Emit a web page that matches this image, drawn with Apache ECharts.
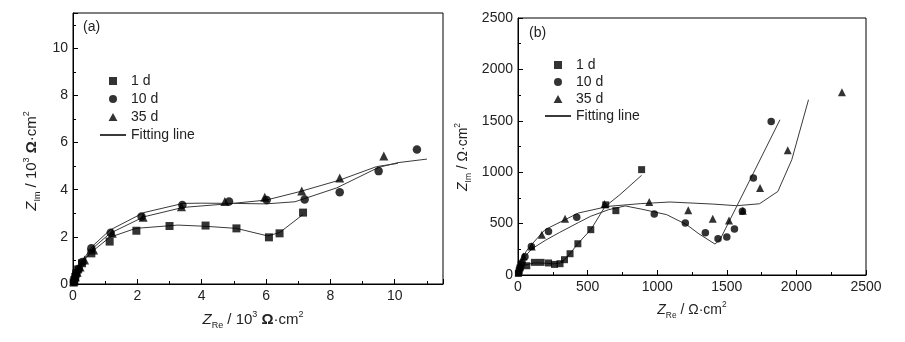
<!DOCTYPE html>
<html><head><meta charset="utf-8">
<script src="https://cdn.jsdelivr.net/npm/echarts@6/dist/echarts.min.js"></script>
<style>html,body{margin:0;padding:0;background:#fff}#c{width:905px;height:342px}</style>
</head><body><div id="c"></div>
<script>
// ---- Panel (a): Z in 10^3 Ω·cm² ----
const a1d = [[0.02,0.06],[0.04,0.16],[0.07,0.3],[0.1,0.45],[0.16,0.62],[0.28,0.88],[0.57,1.3],[1.14,1.8],[1.97,2.26],[3.0,2.46],[4.12,2.48],[5.08,2.36],[6.09,1.98],[6.42,2.15],[7.15,3.03]];
const a10d = [[0.03,0.1],[0.06,0.25],[0.1,0.45],[0.18,0.65],[0.29,0.93],[0.57,1.52],[1.17,2.17],[2.13,2.86],[3.4,3.35],[4.85,3.5],[6.02,3.56],[7.2,3.59],[8.29,3.89],[9.5,4.79],[10.69,5.71]];
const a35d = [[0.03,0.12],[0.07,0.3],[0.13,0.5],[0.22,0.72],[0.36,1.02],[0.64,1.44],[1.22,2.15],[2.18,2.83],[3.37,3.28],[4.72,3.5],[5.96,3.68],[7.11,3.95],[8.29,4.5],[9.66,5.43]];
const aFit1d = [[0,0],[0.05,0.2],[0.12,0.5],[0.28,0.9],[0.57,1.35],[1.14,1.98],[1.95,2.36],[3.26,2.5],[4.1,2.45],[5.08,2.36],[6.05,2.04],[6.42,2.18],[7.15,2.95]];
const aFit10d = [[0,0],[0.05,0.22],[0.1,0.48],[0.3,1.0],[0.6,1.6],[1.15,2.29],[2.2,3.03],[3.42,3.42],[4,3.43],[5,3.42],[6,3.4],[6.9,3.49],[8.2,4.08],[9.5,4.95],[10.1,5.15],[11,5.3]];
const aFit35d = [[0,0],[0.05,0.2],[0.1,0.45],[0.3,0.95],[0.6,1.5],[1.15,2.15],[2.2,2.85],[3.42,3.25],[4.8,3.4],[6,3.56],[7.05,3.92],[8.29,4.41],[9.43,4.98],[10.1,5.12]];

// ---- Panel (b): Z in Ω·cm² ----
const b1d = [[3,15],[8,40],[14,68],[22,100],[63,90],[118,123],[166,123],[219,117],[262,103],[302,110],[334,149],[374,207],[430,304],[523,441],[630,682],[703,626],[888,1025]];
const b10d = [[5,25],[15,70],[30,120],[50,178],[96,278],[219,424],[422,561],[979,593],[1202,506],[1346,411],[1437,353],[1500,370],[1555,447],[1612,619],[1691,944],[1819,1492]];
const b35d = [[5,30],[15,85],[39,181],[99,278],[171,392],[338,548],[622,690],[943,710],[1223,629],[1399,548],[1516,531],[1615,625],[1739,846],[1938,1213],[2327,1777]];
const bFit1d = [[0,0],[8,40],[20,80],[60,100],[120,118],[200,115],[260,108],[300,118],[335,150],[375,210],[430,305],[523,441],[625,665],[732,781],[888,970]];
const bFit10d = [[0,0],[10,60],[25,120],[50,181],[100,255],[200,340],[300,415],[434,510],[520,570],[650,635],[770,672],[890,640],[1068,587],[1212,489],[1300,400],[1415,301],[1451,343],[1703,1024],[1882,1510]];
const bFit35d = [[0,0],[5,60],[15,120],[40,190],[75,262],[194,441],[434,603],[650,668],[878,694],[1092,710],[1400,690],[1572,674],[1735,693],[1867,813],[1967,1122],[2087,1705]];

const legendNames = ['1 d','10 d','35 d','Fitting line'];
const aTicks = {min:0, max:11.5, interval:2};
const bTicks = {min:0, max:2500, interval:500};

const FONT = 'Liberation Sans, Arial, sans-serif';
const chart = echarts.init(document.getElementById('c'), null, {renderer:'canvas'});

function axis(gi, t, fs){
  return {
    type:'value', gridIndex:gi, min:t.min, max:t.max, interval:t.interval,
    axisLine:{show:true, onZero:false, lineStyle:{color:'#000', width:1}},
    axisTick:{show:true, inside:true, length:5, lineStyle:{color:'#000'}},
    minorTick:{show:true, splitNumber:2, length:3, lineStyle:{color:'#000'}},
    splitLine:{show:false},
    axisLabel:{color:'#222', fontSize:fs, fontFamily:FONT, margin:5, showMaxLabel: t.max % t.interval === 0,
      formatter: v => (v % t.interval === 0 ? String(v) : '')}
  };
}
function scatter(name, data, sym, gi, size){
  return {type:'scatter', name, data, symbol:sym, symbolSize:size, xAxisIndex:gi, yAxisIndex:gi,
    itemStyle:{color:'#000'}, z:3};
}
function fit(data, gi){
  return {type:'line', name:'Fitting line', data, xAxisIndex:gi, yAxisIndex:gi, symbol:'none',
    lineStyle:{color:'#3a3a3a', width:1}, itemStyle:{color:'#3a3a3a'}, z:2};
}
const rich = (fs) => ({
  i:{fontSize:fs, fontStyle:'italic', fontFamily:FONT, color:'#222', lineHeight:fs+5},
  n:{fontSize:fs, fontFamily:FONT, color:'#222', lineHeight:fs+5},
  b:{fontSize:fs, fontWeight:'bold', fontFamily:FONT, color:'#222', lineHeight:fs+5},
  sub:{fontSize:fs*0.6, fontFamily:FONT, color:'#222', lineHeight:fs*0.6, verticalAlign:'bottom'},
  sup:{fontSize:fs*0.6, fontFamily:FONT, color:'#222', lineHeight:fs*0.6, verticalAlign:'top'}
});
function nameText(x, y, rot, text, fs){
  return {type:'text', x, y, rotation:rot, silent:true,
    style:{text, rich:rich(fs), align:'center', verticalAlign:'middle', fontFamily:FONT, fontSize:fs, fill:'#222'}};
}
const ICON_SQ = 'path://M0,0L10,0L10,10L0,10Z';
const ICON_CI = 'path://M5,0A5,5,0,1,1,5,10A5,5,0,1,1,5,0Z';
const ICON_TR = 'path://M5,0L10,9L0,9Z';
function legend(left, top, fs, gap){
  return {show:true, orient:'vertical', left, top, itemWidth:26, itemHeight:8, itemGap:gap,
    symbolKeepAspect:true, selectedMode:false,
    data:[
      {name:legendNames[0], icon:ICON_SQ},
      {name:legendNames[1], icon:ICON_CI},
      {name:legendNames[2], icon:ICON_TR},
      {name:legendNames[3], itemStyle:{opacity:0}}
    ],
    textStyle:{fontSize:fs, fontFamily:FONT, color:'#222'}};
}

chart.setOption({
  animation:false,
  backgroundColor:'#fff',
  grid:[
    {left:73, top:13, width:370, height:271, show:true, borderColor:'#000', borderWidth:1, backgroundColor:'transparent'},
    {left:518, top:18, width:348, height:257, show:true, borderColor:'#000', borderWidth:1, backgroundColor:'transparent'}
  ],
  xAxis:[axis(0, aTicks, 14), axis(1, bTicks, 14)],
  yAxis:[axis(0, aTicks, 14), axis(1, bTicks, 14)],
  legend:[legend(94, 69, 14, 4), legend(539, 53, 14, 3)],
  series:[
    scatter('1 d', a1d, 'rect', 0, 8),
    scatter('10 d', a10d, 'circle', 0, 8.5),
    scatter('35 d', a35d, 'triangle', 0, 9),
    fit(aFit1d, 0), fit(aFit10d, 0), fit(aFit35d, 0),
    scatter('1 d', b1d, 'rect', 1, 7),
    scatter('10 d', b10d, 'circle', 1, 7.5),
    scatter('35 d', b35d, 'triangle', 1, 8),
    fit(bFit1d, 1), fit(bFit10d, 1), fit(bFit35d, 1)
  ],
  graphic:[
    {type:'text', left:83, top:20, silent:true, style:{text:'(a)', fontSize:14, fontFamily:FONT, fill:'#222'}},
    {type:'text', left:529, top:26, silent:true, style:{text:'(b)', fontSize:14, fontFamily:FONT, fill:'#222'}},
    nameText(253, 320, 0, '{i|Z}{sub|Re}{n| / 10}{sup|3}{b| Ω}{n|·cm}{sup|2}', 15),
    nameText(32, 161, Math.PI/2, '{i|Z}{sub|Im}{n| / 10}{sup|3}{b| Ω}{n|·cm}{sup|2}', 15),
    nameText(692, 310, 0, '{i|Z}{sub|Re}{n| / Ω·cm}{sup|2}', 14),
    nameText(463, 157, Math.PI/2, '{i|Z}{sub|Im}{n| / Ω·cm}{sup|2}', 14)
  ]
});
</script>
</body></html>
